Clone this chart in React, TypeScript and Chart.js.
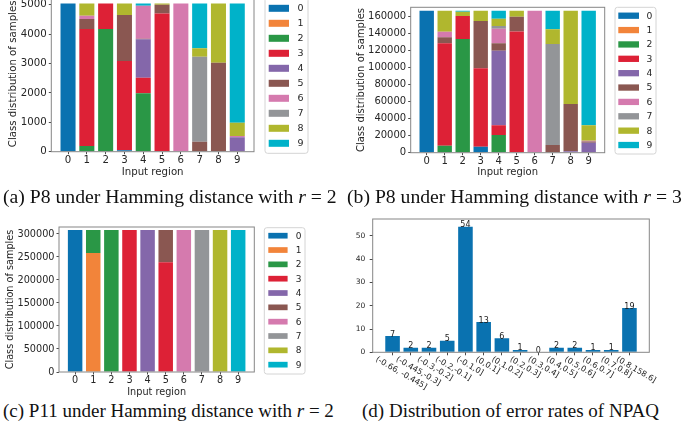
import React, { useEffect, useRef } from 'react';
import { Chart, registerables } from 'chart.js';

Chart.register(...registerables);

// ---------- shared categories ----------
const classLabels = ['0', '1', '2', '3', '4', '5', '6', '7', '8', '9'];
const classColors = ['#0a72b0', '#f2843a', '#2a9746', '#dd2136', '#8467aa', '#8a5751', '#d57aae', '#939598', '#b0b72e', '#00b2c9'];
const regionTicks = [0, 1, 2, 3, 4, 5, 6, 7, 8, 9];
const regionLabels = ['0', '1', '2', '3', '4', '5', '6', '7', '8', '9'];

// ---------- (a) P8, Hamming r = 2 : rows = class, cols = input region ----------
const p8r2ByClass: number[][] = [
  [5040, 0, 0, 50, 0, 0, 0, 0, 0, 0],
  [0, 0, 0, 0, 0, 0, 0, 0, 0, 0],
  [0, 190, 4170, 0, 1983, 0, 0, 0, 0, 0],
  [0, 3980, 870, 3030, 532, 4700, 0, 0, 0, 0],
  [0, 0, 0, 0, 1303, 0, 0, 0, 0, 490],
  [0, 340, 0, 1563, 25, 297, 0, 340, 3025, 0],
  [0, 113, 0, 0, 1120, 0, 5040, 0, 0, 45],
  [0, 0, 0, 0, 0, 0, 0, 2890, 0, 0],
  [0, 417, 0, 397, 0, 43, 0, 282, 2015, 450],
  [0, 0, 0, 0, 77, 0, 0, 1528, 0, 4055],
];
const p8r2YTicks = [0, 1000, 2000, 3000, 4000, 5000];

// ---------- (b) P8, Hamming r = 3 ----------
const p8r3ByClass: number[][] = [
  [166200, 0, 0, 7000, 0, 0, 0, 0, 0, 0],
  [0, 0, 0, 0, 0, 0, 0, 0, 0, 0],
  [0, 8200, 133000, 0, 20700, 0, 0, 0, 0, 0],
  [0, 119800, 27000, 91700, 11300, 142000, 0, 0, 0, 0],
  [0, 0, 0, 0, 87400, 0, 0, 0, 1800, 11700],
  [0, 7000, 0, 55400, 8600, 17200, 0, 9000, 55200, 1300],
  [0, 6600, 0, 0, 17200, 0, 166200, 0, 0, 1000],
  [0, 0, 0, 0, 3100, 0, 0, 118200, 0, 0],
  [0, 24600, 5000, 12100, 8600, 7000, 0, 17200, 109200, 18000],
  [0, 0, 1200, 0, 9300, 0, 0, 21800, 0, 134200],
];
const p8r3YTicks = [0, 20000, 40000, 60000, 80000, 100000, 120000, 140000, 160000];

// ---------- (c) P11, Hamming r = 2 ----------
const p11r2ByClass: number[][] = [
  [308700, 0, 0, 0, 0, 0, 0, 0, 0, 0],
  [0, 258700, 0, 0, 0, 0, 0, 0, 0, 0],
  [0, 50000, 308700, 0, 0, 0, 0, 0, 0, 0],
  [0, 0, 0, 308700, 0, 238400, 0, 0, 0, 0],
  [0, 0, 0, 0, 308700, 0, 0, 0, 0, 0],
  [0, 0, 0, 0, 0, 70300, 0, 0, 0, 0],
  [0, 0, 0, 0, 0, 0, 308700, 0, 0, 0],
  [0, 0, 0, 0, 0, 0, 0, 308700, 0, 0],
  [0, 0, 0, 0, 0, 0, 0, 0, 308700, 0],
  [0, 0, 0, 0, 0, 0, 0, 0, 0, 308700],
];
const p11r2YTicks = [0, 50000, 100000, 150000, 200000, 250000, 300000];

// ---------- (d) error-rate distribution of NPAQ ----------
const errorBins = [
  '(-0.66, -0.445]', '(-0.445,-0.3]', '(-0.3,-0.2]', '(-0.2,-0.1]', '(-0.1,0]', '(0,0.1]', '(0.1,0.2]',
  '(0.2,0.3]', '(0.3,0.4]', '(0.4,0.5]', '(0.5,0.6]', '(0.6,0.7]', '(0.7,0.8]', '(0.8,158.6]',
];
const errorCounts = [7, 2, 2, 5, 54, 13, 6, 1, 0, 2, 2, 1, 1, 19];
const errorYTicks = [0, 10, 20, 30, 40, 50];

const yTitle = 'Class distribution of samples';
const xTitle = 'Input region';

// ---------- styling ----------
const FONT = "'DejaVu Sans', sans-serif";
const TEXT = '#262626';
const SPINE = '#868686';
const TICK = '#4a4a4a';

const framePlugin = {
  id: 'mplFrame',
  afterDraw(chart: any) {
    const { ctx, chartArea: a } = chart;
    ctx.save();
    ctx.strokeStyle = SPINE;
    ctx.lineWidth = 1;
    ctx.strokeRect(a.left, a.top, a.right - a.left, a.bottom - a.top);
    ctx.restore();
  },
};

const legendPlugin = {
  id: 'mplLegend',
  afterDraw(chart: any, _args: any, o: any) {
    if (!o || !o.show) return;
    const { ctx, chartArea: a } = chart;
    const fl = a.right + o.dx;
    const ft = a.top + o.dt;
    const fb = a.bottom + o.db;
    ctx.save();
    ctx.beginPath();
    if ((ctx as any).roundRect) (ctx as any).roundRect(fl, ft, o.w, fb - ft, 2.5);
    else ctx.rect(fl, ft, o.w, fb - ft);
    ctx.fillStyle = '#ffffff';
    ctx.fill();
    ctx.strokeStyle = '#d4d4d4';
    ctx.lineWidth = 1;
    ctx.stroke();
    ctx.font = `${o.font}px ${FONT}`;
    ctx.textAlign = 'center';
    ctx.textBaseline = 'middle';
    chart.data.datasets.forEach((ds: any, i: number) => {
      const cy = a.top + o.first + i * o.step;
      ctx.fillStyle = ds.backgroundColor;
      ctx.fillRect(fl + o.px, cy - o.ph / 2, o.pw, o.ph);
      ctx.fillStyle = TEXT;
      ctx.fillText(ds.label, fl + o.tx, cy + 0.5);
    });
    ctx.restore();
  },
};

const barValuePlugin = {
  id: 'mplBarValues',
  afterDatasetsDraw(chart: any, _args: any, o: any) {
    if (!o || !o.show) return;
    const { ctx } = chart;
    const meta = chart.getDatasetMeta(0);
    ctx.save();
    ctx.font = `${o.font}px ${FONT}`;
    ctx.fillStyle = '#1a1a1a';
    ctx.textAlign = 'center';
    ctx.textBaseline = 'alphabetic';
    meta.data.forEach((bar: any, i: number) => {
      ctx.fillText(String(errorCounts[i]), bar.x, bar.y + 0.5);
    });
    ctx.restore();
  },
};

const rotatedXLabelPlugin = {
  id: 'mplRotX',
  afterDraw(chart: any, _args: any, o: any) {
    if (!o || !o.show) return;
    const { ctx, chartArea: a } = chart;
    const xs = chart.scales.x;
    const ang = (o.angle * Math.PI) / 180;
    ctx.save();
    ctx.font = `${o.font}px ${FONT}`;
    ctx.fillStyle = TEXT;
    ctx.textAlign = 'center';
    ctx.textBaseline = 'middle';
    xs.ticks.forEach((t: any) => {
      const k = Math.round(t.value);
      const label = errorBins[k];
      if (label === undefined) return;
      const w = ctx.measureText(label).width;
      const h = o.font;
      const H = w * Math.sin(ang) + h * Math.cos(ang);
      const cx = xs.getPixelForValue(t.value) + o.shift * w;
      const cy = a.bottom + o.gap + H / 2;
      ctx.save();
      ctx.translate(cx, cy);
      ctx.rotate(ang);
      ctx.fillText(label, 0, 0);
      ctx.restore();
    });
    ctx.restore();
  },
};

type Geo = {
  padTop: number; padRight: number; yAxisW: number; xAxisH: number; yMax: number;
  font: number; xTitlePad: number; yTitlePad: number; legend: any;
};

function stackedConfig(g: Geo, byClass: number[][], yTicks: number[]): any {
  return {
    type: 'bar',
    data: {
      datasets: byClass.map((vals, c) => ({
        label: classLabels[c],
        data: vals.map((v, i) => ({ x: regionTicks[i], y: v })),
        backgroundColor: classColors[c],
        borderWidth: 0,
        categoryPercentage: 1,
        barPercentage: 0.8,
      })),
    },
    options: {
      responsive: false,
      animation: false,
      events: [],
      layout: { padding: { left: 0, right: g.padRight, top: g.padTop, bottom: 0 } },
      plugins: {
        legend: { display: false },
        tooltip: { enabled: false },
        mplLegend: { show: true, ...g.legend },
      },
      scales: {
        x: {
          type: 'linear', stacked: true, offset: false, min: -0.89, max: 9.89,
          afterBuildTicks: (s: any) => { s.ticks = regionTicks.map((v) => ({ value: v })); },
          afterFit: (s: any) => { s.height = g.xAxisH; },
          ticks: {
            autoSkip: false, maxRotation: 0, minRotation: 0, padding: 0, color: TEXT,
            font: { family: FONT, size: g.font },
            callback: (v: number) => { const k = regionTicks.indexOf(v); return k >= 0 ? regionLabels[k] : ''; },
          },
          grid: { display: true, drawOnChartArea: false, drawTicks: true, tickLength: 2.5, color: TICK, offset: false },
          border: { display: false },
          title: { display: true, text: xTitle, color: TEXT, font: { family: FONT, size: g.font }, padding: { top: 0, bottom: g.xTitlePad } },
        },
        y: {
          type: 'linear', stacked: true, min: 0, max: g.yMax,
          afterBuildTicks: (s: any) => { s.ticks = yTicks.map((v) => ({ value: v })); },
          afterFit: (s: any) => { s.width = g.yAxisW; },
          ticks: { padding: 2, color: TEXT, font: { family: FONT, size: g.font }, callback: (v: number) => String(v) },
          grid: { display: true, drawOnChartArea: false, drawTicks: true, tickLength: 2.5, color: TICK },
          border: { display: false },
          title: { display: true, text: yTitle, color: TEXT, font: { family: FONT, size: g.font }, padding: { top: g.yTitlePad, bottom: 0 } },
        },
      },
    },
    plugins: [framePlugin, legendPlugin],
  };
}

function errorConfig(): any {
  return {
    type: 'bar',
    data: {
      datasets: [{
        label: 'count',
        data: errorCounts.map((v, i) => ({ x: i, y: v })),
        backgroundColor: classColors[0],
        borderWidth: 0,
        categoryPercentage: 1,
        barPercentage: 0.8,
      }],
    },
    options: {
      responsive: false,
      animation: false,
      events: [],
      layout: { padding: { left: 0, right: 35.7, top: 12, bottom: 0 } },
      plugins: {
        legend: { display: false },
        tooltip: { enabled: false },
        mplBarValues: { show: true, font: 8 },
        mplRotX: { show: true, font: 8, angle: 30, shift: 0.15, gap: 3 },
      },
      scales: {
        x: {
          type: 'linear', offset: false, min: -1.09, max: errorCounts.length - 1 + 1.09,
          afterBuildTicks: (s: any) => { s.ticks = errorCounts.map((_, i) => ({ value: i })); },
          afterFit: (s: any) => { s.height = 44.7; },
          ticks: { display: false, autoSkip: false },
          grid: { display: true, drawOnChartArea: false, drawTicks: true, tickLength: 3, color: TICK, offset: false },
          border: { display: false },
        },
        y: {
          type: 'linear', min: 0, max: 57.3,
          afterBuildTicks: (s: any) => { s.ticks = errorYTicks.map((v) => ({ value: v })); },
          afterFit: (s: any) => { s.width = 42.7; },
          ticks: { padding: 4.5, color: TEXT, font: { family: FONT, size: 7.5 }, callback: (v: number) => String(v) },
          grid: { display: true, drawOnChartArea: false, drawTicks: true, tickLength: 3, color: TICK },
          border: { display: false },
        },
      },
    },
    plugins: [framePlugin, barValuePlugin, rotatedXLabelPlugin],
  };
}

const geoA: Geo = {
  padTop: 10, padRight: 66, yAxisW: 51.3, xAxisH: 34.3, yMax: 5292, font: 10.2, xTitlePad: 7.6, yTitlePad: 7.2,
  legend: { dx: 11, w: 43, dt: 2, db: 1.6, first: 12.3, step: 15, px: 3.7, pw: 20.3, ph: 7, tx: 35.5, font: 9.5 },
};
const geoB: Geo = {
  padTop: 10.3, padRight: 80.3, yAxisW: 70.7, xAxisH: 33.3, yMax: 170185, font: 10, xTitlePad: 7.7, yTitlePad: 15,
  legend: { dx: 10.3, w: 41, dt: 0, db: 1.3, first: 8.4, step: 14.37, px: 3.3, pw: 20.7, ph: 6.3, tx: 34.3, font: 9.2 },
};
const geoC: Geo = {
  padTop: 12, padRight: 65.7, yAxisW: 59, xAxisH: 28, yMax: 315217, font: 9.7, xTitlePad: 2.2, yTitlePad: 4.2,
  legend: { dx: 10, w: 40.7, dt: 0.7, db: 2, first: 8.7, step: 14.33, px: 4, pw: 19.3, ph: 5.7, tx: 34.2, font: 9 },
};

function ChartCanvas(props: { left: number; top: number; width: number; height: number; make: () => any }) {
  const ref = useRef<HTMLCanvasElement | null>(null);
  useEffect(() => {
    if (!ref.current) return;
    const chart = new Chart(ref.current, props.make());
    return () => chart.destroy();
  }, []);
  const { left, top, width, height } = props;
  return (
    <canvas
      ref={ref}
      width={width}
      height={height}
      style={{ position: 'absolute', left, top, width, height, display: 'block' }}
    />
  );
}

const captionStyle: React.CSSProperties = {
  position: 'absolute',
  fontFamily: "'Liberation Serif', 'Times New Roman', serif",
  lineHeight: '20px',
  whiteSpace: 'nowrap',
  color: '#111',
};

export default function App() {
  return (
    <div style={{ position: 'absolute', left: 0, top: 0, width: 685, height: 429, overflow: 'hidden', background: '#fff' }}>
      <ChartCanvas left={0} top={-14} width={320} height={200} make={() => stackedConfig(geoA, p8r2ByClass, p8r2YTicks)} />
      <ChartCanvas left={340} top={-3} width={345} height={189} make={() => stackedConfig(geoB, p8r3ByClass, p8r3YTicks)} />
      <ChartCanvas left={0} top={215} width={320} height={185} make={() => stackedConfig(geoC, p11r2ByClass, p11r2YTicks)} />
      <ChartCanvas left={330} top={207} width={355} height={190} make={errorConfig} />
      <div style={{ ...captionStyle, fontSize: 19.7, left: 3, top: 186 }}>(a) P8 under Hamming distance with <i>r</i> = 2</div>
      <div style={{ ...captionStyle, fontSize: 19.7, left: 347, top: 186 }}>(b) P8 under Hamming distance with <i>r</i> = 3</div>
      <div style={{ ...captionStyle, fontSize: 19, left: 3, top: 401 }}>(c) P11 under Hamming distance with <i>r</i> = 2</div>
      <div style={{ ...captionStyle, fontSize: 19, left: 362, top: 401 }}>(d) Distribution of error rates of NPAQ</div>
    </div>
  );
}
